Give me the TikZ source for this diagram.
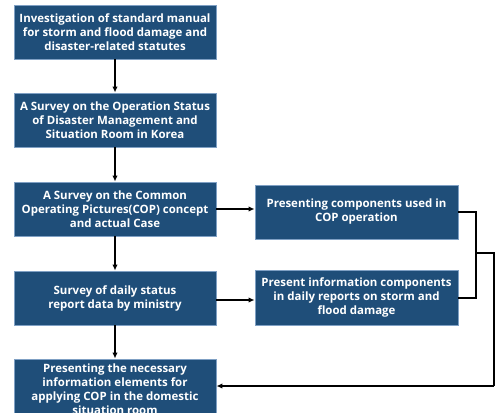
\documentclass[tikz,border=0pt]{standalone}
\usepackage{fontspec}
\setmainfont{Open Sans}
\usetikzlibrary{arrows.meta}
\definecolor{boxfill}{HTML}{1F4E79}
\definecolor{boxline}{HTML}{7FA0C4}
\begin{document}
\begin{tikzpicture}[x=0.75pt,y=-0.75pt,
  stepbox/.style={draw=boxline,line width=0.6pt,fill=boxfill,text=white,font=\bfseries\fontsize{8.6}{10.5}\selectfont,align=center,inner sep=0pt},
  conn/.style={line width=1.1pt,black},
  arr/.style={conn,-{Latex[length=4.5pt,width=4pt]}}]
\useasboundingbox (0,0) rectangle (495,413);
\node[stepbox,minimum width=202*0.75pt,minimum height=54*0.75pt] (b1) at (115,32) {Investigation of standard manual\\for storm and flood damage and\\disaster-related statutes};
\node[stepbox,minimum width=202*0.75pt,minimum height=54*0.75pt] (b2) at (115,120) {A Survey on the Operation Status\\of Disaster Management and\\Situation Room in Korea};
\node[stepbox,minimum width=202*0.75pt,minimum height=54*0.75pt] (b3) at (115,209) {A Survey on the Common\\Operating Pictures(COP) concept\\and actual Case};
\node[stepbox,minimum width=202*0.75pt,minimum height=54*0.75pt] (b4) at (115,298) {Survey of daily status\\report data by ministry};
\node[stepbox,minimum width=202*0.75pt,minimum height=60*0.75pt,text depth=0pt] (b5) at (115,389) {Presenting the necessary\\information elements for\\applying COP in the domestic\\situation room};
\node[stepbox,minimum width=203*0.75pt,minimum height=54*0.75pt] (ra) at (356.5,212) {Presenting components used in\\COP operation};
\node[stepbox,minimum width=203*0.75pt,minimum height=55*0.75pt] (rb) at (356.5,297.5) {Present information components\\in daily reports on storm and\\flood damage};
\coordinate (j1) at (476,212);
\coordinate (j2) at (476,298);
\coordinate (jm) at (476,253);
\coordinate (jr) at (494,253);
\coordinate (jb) at (494,386);
\draw[arr] (b1) -- (b2);
\draw[arr] (b2) -- (b3);
\draw[arr] (b3) -- (b4);
\draw[arr] (b4) -- (b4|-b5.north);
\draw[arr] (b3.east) -- (ra.west|-b3.east);
\draw[arr] (b4.east) ++(0,2) -- (rb.west|-{(0,300)});
\draw[conn] (ra.east) -- (j1) -- (j2) -- (rb.east|-j2);
\draw[conn] (jm) -- (jr) -- (jb);
\draw[arr] (jb) -- (b5.east|-jb);
\end{tikzpicture}
\end{document}
